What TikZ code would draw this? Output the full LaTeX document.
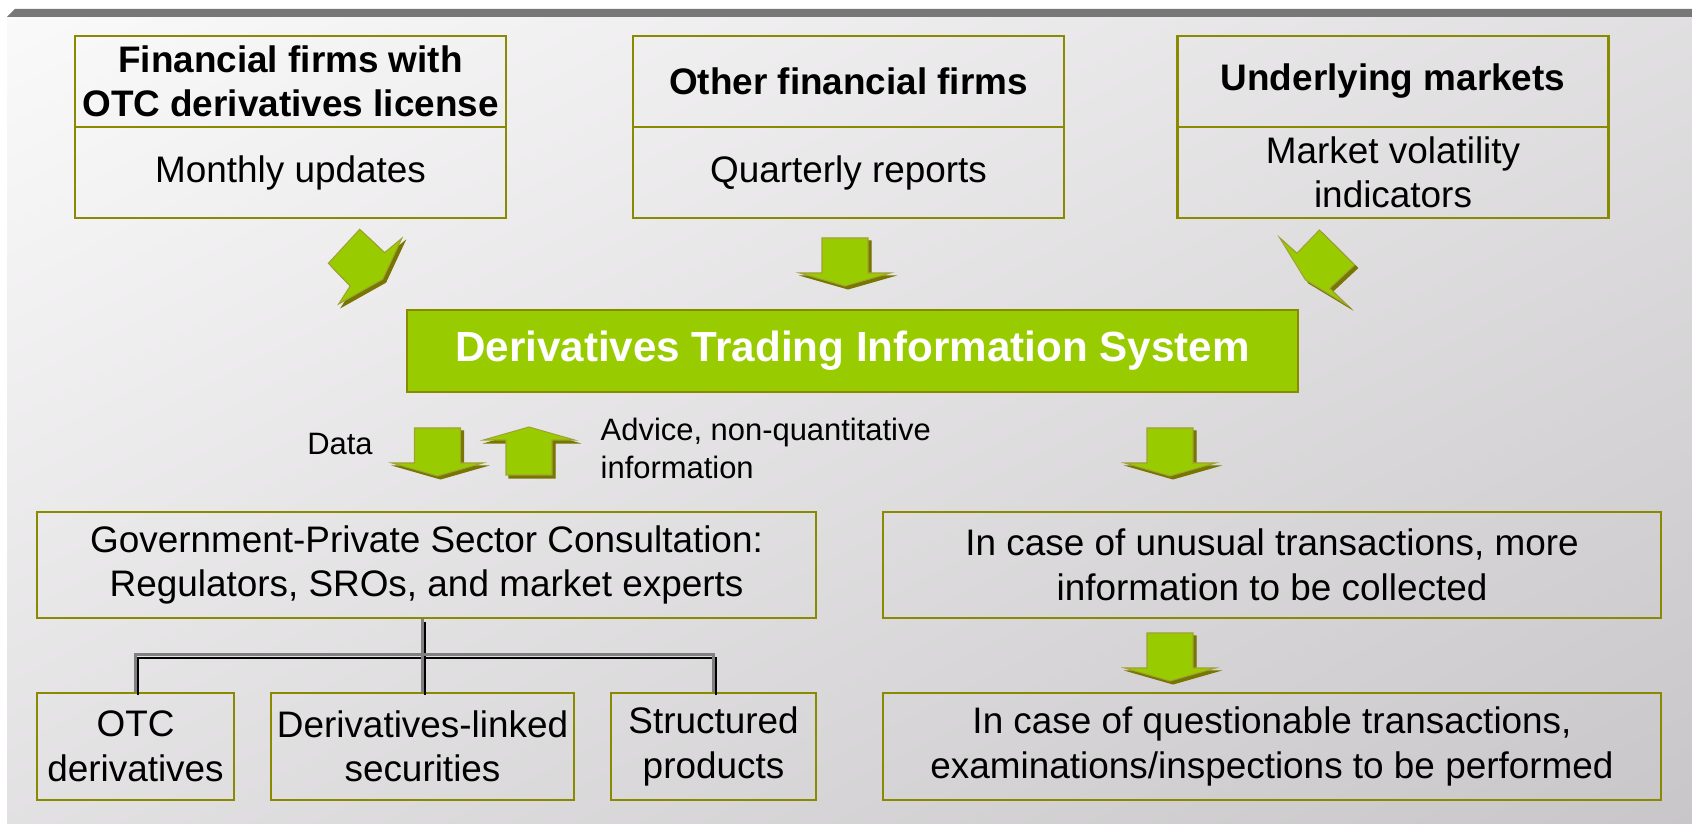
\documentclass[tikz,border=0pt]{standalone}
\usepackage{fontspec}
\setmainfont{Liberation Sans}

\definecolor{boxline}{RGB}{138,138,0}
\definecolor{leafgreen}{RGB}{153,204,0}
\definecolor{arrowshade}{RGB}{118,118,0}
\definecolor{bglight}{RGB}{251,250,251}
\definecolor{bgdark}{RGB}{200,198,200}
\definecolor{barcol}{RGB}{119,119,119}

\tikzset{
  srchead/.style={draw=boxline, line width=0.6pt, minimum width=4.31cm, minimum height=0.91cm,
    inner sep=0pt, align=center, font=\bfseries\fontsize{10.5}{12.5}\selectfont},
  srcbody/.style={srchead, font=\fontsize{10.5}{12.5}\selectfont},
  sysbox/.style={draw=boxline, line width=0.6pt, fill=leafgreen, text=white, minimum width=8.91cm,
    minimum height=0.82cm, inner sep=0pt, font=\bfseries\fontsize{12}{14}\selectfont},
  infobox/.style={draw=boxline, line width=0.6pt, minimum height=1.06cm, inner sep=0pt,
    align=center, font=\fontsize{10.5}{12.7}\selectfont},
  notetext/.style={inner sep=0pt, align=left, font=\fontsize{8.8}{10.8}\selectfont},
  branch/.style={draw=gray, line width=0.85pt},
  branchshadow/.style={draw=black, line width=0.8pt, transform canvas={shift={(0.025,-0.03)}}},
  % flat block arrow, #1 = -1 points down, 1 points up
  pics/block/.style={code={
    \filldraw[fill=arrowshade, draw=arrowshade, line width=0.3pt, shift={(0.03,-0.03)}]
      (-0.23,0) -- (0.23,0) -- (0.23,#1*0.35) -- (0.455,#1*0.35) -- (0,#1*0.48)
      -- (-0.455,#1*0.35) -- (-0.23,#1*0.35) -- cycle;
    \filldraw[fill=leafgreen, draw=boxline!80, line width=0.3pt]
      (-0.23,0) -- (0.23,0) -- (0.23,#1*0.35) -- (0.455,#1*0.35) -- (0,#1*0.48)
      -- (-0.455,#1*0.35) -- (-0.23,#1*0.35) -- cycle;
  }},
}

\begin{document}
\begin{tikzpicture}
    \useasboundingbox (0,0) rectangle (16.92,8.24);
    \fill[white] (0,0) rectangle (16.92,8.24);
    % slide background, light at top left
    \begin{scope}
        \clip (0.07,0) rectangle (16.92,8.07);
        \shade[top color=bglight, bottom color=bgdark, transform canvas={rotate around={27:(8.46,4.04)}}]
          (-3.54,-3.43) rectangle (20.46,11.51);
    \end{scope}
    \fill[barcol] (0.07,8.07) -- (0.15,8.15) -- (16.92,8.15) -- (16.92,8.07) -- cycle;

    % Sources
    \node[srchead] (firmhead) at (2.905,7.425) {Financial firms with\\OTC derivatives license};
    \node[srcbody] (firmbody) at (2.905,6.515) {Monthly updates};
    \node[srchead] (otherhead) at (8.485,7.425) {Other financial firms};
    \node[srcbody] (otherbody) at (8.485,6.515) {Quarterly reports};
    \node[srchead] (markethead) at (13.93,7.425) {Underlying markets};
    \node[srcbody] (marketbody) at (13.93,6.515) {Market volatility\\indicators};

    % Arrows into the system
    \filldraw[fill=arrowshade, draw=arrowshade, line width=0.3pt, shift={(0.03,-0.03)}]
      (3.597,5.947) -- (3.846,5.713) -- (4.018,5.857) -- (3.827,5.447) -- (3.387,5.20)
      -- (3.502,5.38) -- (3.284,5.607) -- cycle;
    \filldraw[fill=leafgreen, draw=boxline!80, line width=0.3pt]
      (3.597,5.947) -- (3.846,5.713) -- (4.018,5.857) -- (3.827,5.447) -- (3.387,5.20)
      -- (3.502,5.38) -- (3.284,5.607) -- cycle;
    \pic at (8.45,5.86) {block=-1};
    \filldraw[fill=arrowshade, draw=arrowshade, line width=0.3pt, shift={(0.03,-0.03)}]
      (12.796,5.863) -- (12.969,5.707) -- (13.194,5.94) -- (13.546,5.59) -- (13.297,5.357)
      -- (13.47,5.19) -- (13.055,5.44) -- cycle;
    \filldraw[fill=leafgreen, draw=boxline!80, line width=0.3pt]
      (12.796,5.863) -- (12.969,5.707) -- (13.194,5.94) -- (13.546,5.59) -- (13.297,5.357)
      -- (13.47,5.19) -- (13.055,5.44) -- cycle;

    % System
    \node[sysbox] (system) at (8.525,4.73) {Derivatives Trading Information System};

    % Consultation side
    \node[notetext] (datalabel) at (3.40,3.80) {Data};
    \pic at (4.375,3.96) {block=-1};
    \pic at (5.29,3.49) {block=1};
    \node[notetext, anchor=west] (advicelabel) at (6.00,3.76) {Advice, non-quantitative\\information};

    \node[infobox, minimum width=7.79cm] (consult) at (4.265,2.59)
      {Government-Private Sector Consultation:\\Regulators, SROs, and market experts};
    \node[infobox, minimum width=1.97cm, minimum height=1.07cm] (otc) at (1.355,0.775) {OTC\\derivatives};
    \node[infobox, minimum width=3.03cm, minimum height=1.07cm] (linked) at (4.225,0.775) {Derivatives-linked\\securities};
    \node[infobox, minimum width=2.05cm, minimum height=1.07cm] (structured) at (7.135,0.775) {Structured\\products};

    \coordinate (fork) at (4.225,1.69);
    \draw[branchshadow] (linked.north |- consult.south) -- (linked.north);
    \draw[branchshadow] (otc.north) -- (otc.north |- fork) -- (structured.north |- fork) -- (structured.north);
    \draw[branch] (linked.north |- consult.south) -- (linked.north);
    \draw[branch] (otc.north) -- (otc.north |- fork) -- (structured.north |- fork) -- (structured.north);

    % Follow-up side
    \pic at (11.70,3.96) {block=-1};
    \node[infobox, minimum width=7.78cm] (unusual) at (12.72,2.59)
      {In case of unusual transactions, more\\information to be collected};
    \pic at (11.70,1.91) {block=-1};
    \node[infobox, minimum width=7.78cm, minimum height=1.07cm] (questionable) at (12.72,0.775)
      {In case of questionable transactions,\\examinations/inspections to be performed};
\end{tikzpicture}
\end{document}
